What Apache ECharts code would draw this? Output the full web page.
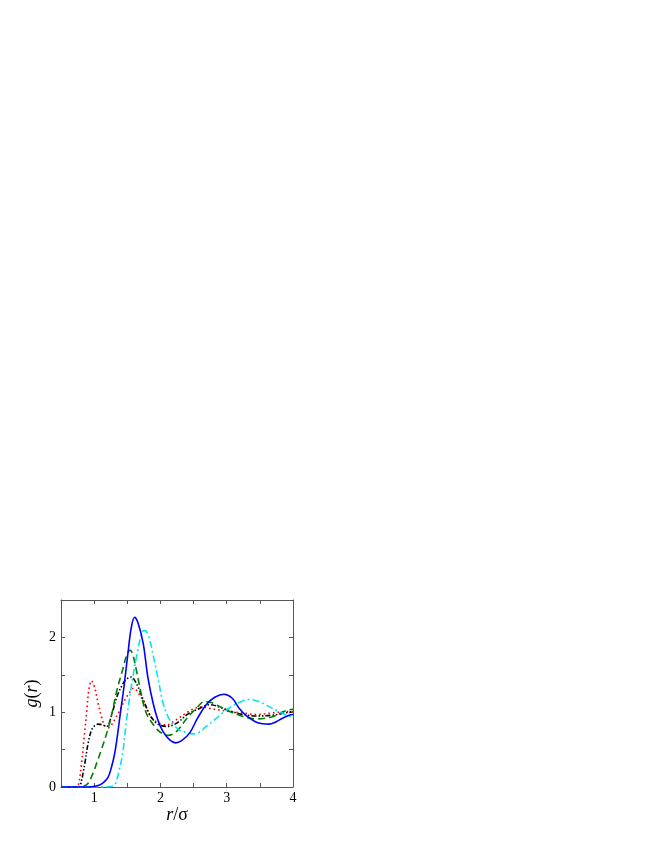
<!DOCTYPE html>
<html>
<head>
<meta charset="utf-8">
<script src="https://cdn.jsdelivr.net/npm/echarts@6/dist/echarts.min.js"></script>
<style>
  html, body { margin: 0; padding: 0; background: #fff; }
  #main { width: 654px; height: 846px; }
</style>
</head>
<body>
<div id="main"></div>
<script>
// g(r) curves, [r/sigma, g(r)]
const redDotted = [[0.5,0],[0.72,0],[0.76,0.02],[0.81,0.32],[0.85,0.67],[0.89,1.03],[0.92,1.3],[0.96,1.42],[1.01,1.32],[1.06,1.12],[1.11,0.94],[1.16,0.82],[1.21,0.79],[1.26,0.83],[1.31,0.9],[1.39,1.03],[1.46,1.16],[1.54,1.27],[1.59,1.32],[1.64,1.29],[1.74,1.15],[1.84,0.96],[1.94,0.87],[2.09,0.83],[2.24,0.9],[2.39,0.99],[2.54,1.06],[2.64,1.07],[2.74,1.05],[2.89,1.03],[3.04,1.01],[3.24,0.99],[3.44,0.97],[3.69,0.99],[3.94,1.01],[4.0,1.01]]
const blackDashDot = [[0.5,0],[0.75,0],[0.79,0.02],[0.86,0.32],[0.91,0.59],[0.96,0.76],[1.01,0.82],[1.06,0.84],[1.13,0.83],[1.19,0.81],[1.26,0.95],[1.34,1.2],[1.44,1.39],[1.5,1.45],[1.56,1.47],[1.64,1.38],[1.69,1.28],[1.74,1.17],[1.84,0.96],[1.89,0.9],[1.96,0.84],[2.09,0.81],[2.24,0.85],[2.39,0.96],[2.44,0.99],[2.59,1.05],[2.74,1.1],[2.89,1.07],[3.04,1.02],[3.24,0.97],[3.44,0.95],[3.69,0.96],[3.94,1.0],[4.0,1.01]]
const greenDashed = [[0.5,0],[0.8,0],[0.85,0.01],[0.91,0.05],[0.99,0.2],[1.05,0.35],[1.11,0.5],[1.19,0.72],[1.26,0.95],[1.34,1.28],[1.44,1.6],[1.49,1.76],[1.54,1.83],[1.58,1.78],[1.64,1.55],[1.69,1.33],[1.74,1.12],[1.79,0.98],[1.84,0.9],[1.96,0.76],[2.04,0.71],[2.11,0.69],[2.24,0.74],[2.4,0.92],[2.54,1.05],[2.66,1.14],[2.76,1.13],[2.84,1.1],[2.99,1.03],[3.19,0.96],[3.44,0.91],[3.69,0.94],[3.89,1.02],[4.0,1.04]]
const cyanDashDot = [[0.5,0],[1.2,0],[1.27,0.01],[1.32,0.04],[1.38,0.23],[1.43,0.45],[1.49,0.9],[1.56,1.34],[1.65,1.79],[1.73,2.08],[1.77,2.09],[1.84,1.96],[1.9,1.72],[1.96,1.47],[2.04,1.12],[2.12,0.93],[2.19,0.84],[2.29,0.76],[2.39,0.73],[2.48,0.71],[2.58,0.73],[2.69,0.81],[2.82,0.9],[2.94,0.99],[3.06,1.07],[3.19,1.13],[3.34,1.17],[3.46,1.15],[3.59,1.1],[3.69,1.05],[3.79,1.01],[3.9,0.96],[4.0,0.93]]
const blueSolid = [[0.5,0],[0.85,0],[0.95,0.003],[1.06,0.02],[1.14,0.06],[1.21,0.13],[1.26,0.26],[1.31,0.45],[1.35,0.68],[1.39,0.95],[1.45,1.34],[1.51,1.79],[1.56,2.13],[1.61,2.27],[1.66,2.2],[1.74,1.92],[1.81,1.47],[1.89,1.12],[1.96,0.9],[2.04,0.74],[2.14,0.63],[2.23,0.59],[2.32,0.62],[2.44,0.72],[2.56,0.92],[2.69,1.1],[2.82,1.2],[2.96,1.24],[3.08,1.19],[3.19,1.05],[3.3,0.95],[3.44,0.87],[3.55,0.845],[3.64,0.84],[3.74,0.87],[3.84,0.92],[3.94,0.96],[4.0,0.97]]

const font = 'Liberation Serif'
const axisColor = '#555'

const chart = echarts.init(document.getElementById('main'))

function frameAxis(extra) {
  return Object.assign({
    type: 'value',
    axisLine: { show: true, onZero: false, lineStyle: { color: axisColor, width: 1 } },
    axisTick: { show: true, inside: true, length: 4, lineStyle: { color: axisColor } },
    splitLine: { show: false },
    axisLabel: { show: false }
  }, extra)
}

const intLabel = v => (Math.abs(v - Math.round(v)) < 1e-6 ? String(Math.round(v)) : '')

const line = (data, color, type, z) => ({
  type: 'line',
  data,
  smooth: 0.35,
  symbol: 'none',
  z,
  lineStyle: { color, width: 1.6, type }
})

chart.setOption({
  animation: false,
  grid: { left: 61, right: 361, top: 600, bottom: 59 },
  xAxis: [
    frameAxis({
      min: 0.5, max: 4, interval: 0.5, position: 'bottom',
      axisLabel: { show: true, formatter: intLabel, color: '#000', fontFamily: font, fontSize: 14, margin: 4 },
      name: '{i|r}/σ',
      nameLocation: 'middle',
      nameGap: 14,
      nameTextStyle: {
        fontFamily: font, fontSize: 18, color: '#000',
        rich: { i: { fontFamily: font, fontSize: 18, fontStyle: 'italic', color: '#000' } }
      }
    }),
    frameAxis({ min: 0.5, max: 4, interval: 0.5, position: 'top' })
  ],
  yAxis: [
    frameAxis({
      min: 0, max: 2.5, interval: 0.5, position: 'left',
      axisLabel: { show: true, formatter: intLabel, color: '#000', fontFamily: font, fontSize: 14, margin: 5 },
      name: '{i|g}({i|r})',
      nameLocation: 'middle',
      nameRotate: 90,
      nameGap: 20,
      nameTextStyle: {
        fontFamily: font, fontSize: 18, color: '#000',
        rich: { i: { fontFamily: font, fontSize: 18, fontStyle: 'italic', color: '#000' } }
      }
    }),
    frameAxis({ min: 0, max: 2.5, interval: 0.5, position: 'right' })
  ],
  series: [
    line(redDotted, '#ff0000', [1.6, 3], 2),
    line(blackDashDot, '#000000', [5, 2, 1.5, 2, 1.5, 2], 3),
    line(greenDashed, '#008000', [7, 4], 4),
    line(cyanDashDot, '#00e5ee', [7, 3, 2, 3], 5),
    line(blueSolid, '#0000ff', 'solid', 6)
  ]
})
</script>
</body>
</html>
